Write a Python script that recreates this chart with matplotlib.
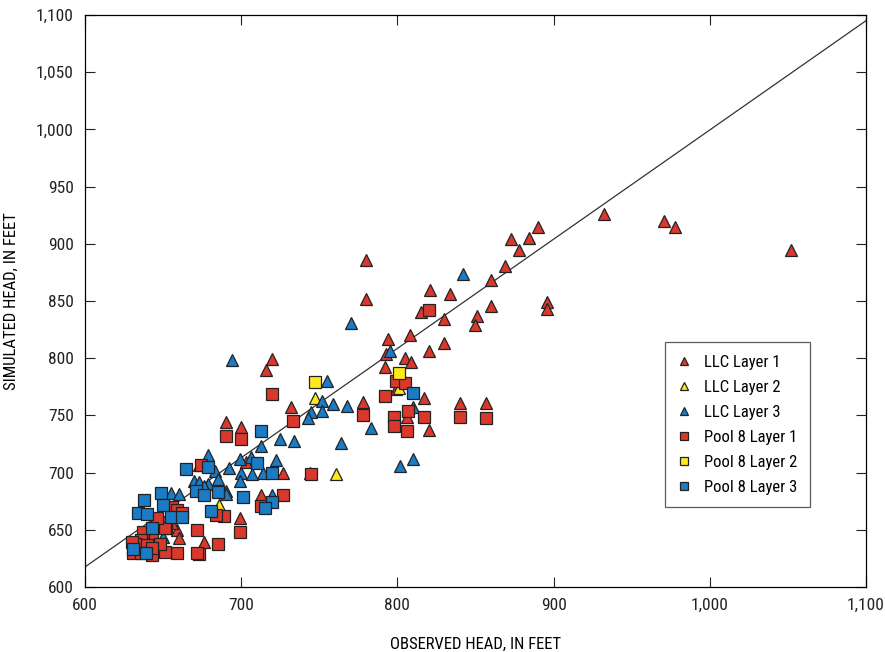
import matplotlib
matplotlib.use("Agg")
import matplotlib.pyplot as plt
from matplotlib import font_manager
from matplotlib.ticker import FuncFormatter

# narrow font if one is installed
names = {f.name for f in font_manager.fontManager.ttflist}
narrow = [n for n in ['Liberation Sans Narrow', 'Roboto Condensed', 'Open Sans Condensed',
                      'DejaVu Sans Condensed'] if n in names]
plt.rcParams['font.family'] = narrow + ['Liberation Sans', 'DejaVu Sans']
plt.rcParams['font.stretch'] = 'condensed'

# LLC layer 1 (red triangles): observed, simulated
llc1_obs = [1052, 978, 971, 932, 896, 896, 890, 884, 878, 873, 869, 860, 860, 851, 850,
            840, 857, 834, 830, 830, 821, 815, 820, 820, 817, 808, 794, 793, 805, 809,
            792, 799, 806, 778, 780, 780, 720, 716, 732, 690, 700, 703, 727, 744, 713,
            699, 676, 659, 660, 673, 656]
llc1_sim = [895, 915, 920, 926, 849, 843, 915, 905, 895, 904, 881, 868, 846, 837, 829,
            761, 761, 856, 834, 813, 860, 840, 806, 737, 765, 820, 817, 804, 800, 797,
            792, 773, 749, 762, 886, 852, 799, 790, 757, 744, 740, 709, 700, 700, 680,
            660, 639, 650, 643, 707, 656]

# LLC layer 2 (yellow triangles)
llc2_obs = [747, 801, 761, 686]
llc2_sim = [765, 774, 699, 672]

# LLC layer 3 (blue triangles)
llc3_obs = [842, 795, 770, 694, 755, 752, 768, 759, 745, 752, 743, 783, 764, 810, 810,
            802, 725, 734, 713, 679, 699, 706, 722, 714, 700, 707, 692, 699, 683, 685,
            679, 670, 673, 676, 690, 690, 720, 655, 660, 650]
llc3_sim = [874, 806, 831, 798, 780, 763, 758, 760, 753, 754, 748, 739, 726, 757, 712,
            706, 729, 728, 723, 715, 712, 714, 711, 700, 700, 699, 704, 693, 701, 694,
            690, 693, 692, 688, 684, 681, 680, 682, 681, 644]

# Pool 8 layer 1 (red squares)
p1_obs = [820, 799, 805, 792, 778, 807, 817, 798, 798, 806, 840, 857, 720, 733, 690,
          700, 727, 713, 745, 699, 672, 685, 673, 659, 672, 651, 643, 652, 674, 689,
          684, 656, 659, 652, 651, 643, 637, 636, 632, 630, 648, 640, 643, 631, 636,
          646, 662]
p1_sim = [842, 780, 778, 767, 750, 754, 749, 749, 741, 736, 749, 748, 769, 745, 732,
          729, 680, 671, 699, 648, 650, 638, 629, 630, 630, 631, 628, 652, 707, 662,
          663, 670, 667, 657, 652, 644, 648, 641, 638, 639, 638, 637, 634, 630, 630,
          660, 665]

# Pool 8 layer 2 (yellow squares)
p2_obs = [747, 801]
p2_sim = [779, 787]

# Pool 8 layer 3 (blue squares)
p3_obs = [810, 713, 720, 710, 665, 679, 701, 720, 715, 681, 638, 634, 640, 649, 650,
          655, 662, 643, 631, 639, 671, 676, 685]
p3_sim = [770, 736, 700, 708, 703, 705, 679, 674, 669, 666, 676, 665, 664, 682, 672,
          661, 661, 652, 633, 630, 684, 680, 683]

# fitted line end points
line_x = [600, 1100]
line_y = [617.5, 1095]

red = '#D9382D'
yellow = '#FFE81C'
blue = '#1B7BC4'

fig = plt.figure(figsize=(8.85, 6.52), dpi=100)
ax = fig.add_axes([0.096, 0.0997, 0.8825, 0.8773])

ax.plot(line_x, line_y, color='#333333', lw=0.9, zorder=1)

kw = dict(linestyle='none', markeredgecolor='#222222', markeredgewidth=0.9, ms=8.5)
ax.plot(llc1_obs, llc1_sim, marker='^', color=red, label='LLC Layer 1', **kw)
ax.plot(llc2_obs, llc2_sim, marker='^', color=yellow, label='LLC Layer 2', **kw)
ax.plot(llc3_obs, llc3_sim, marker='^', color=blue, label='LLC Layer 3', **kw)
ax.plot(p1_obs, p1_sim, marker='s', color=red, label='Pool 8 Layer 1', **kw)
ax.plot(p3_obs, p3_sim, marker='s', color=blue, label='Pool 8 Layer 3', **kw)
ax.plot(p2_obs, p2_sim, marker='s', color=yellow, label='Pool 8 Layer 2', **kw)

ax.set_xlim(600, 1100)
ax.set_ylim(600, 1100)
ax.set_xticks(range(600, 1101, 100))
ax.set_yticks(range(600, 1101, 50))
fmt = FuncFormatter(lambda v, p: '{:,.0f}'.format(v))
ax.xaxis.set_major_formatter(fmt)
ax.yaxis.set_major_formatter(fmt)
ax.tick_params(direction='in', length=7, width=0.8, top=True, right=True,
               labelsize=12.5, colors='#222222', pad=8)
for s in ax.spines.values():
    s.set_linewidth(0.9)

ax.set_xlabel('OBSERVED HEAD, IN FEET', fontsize=12, labelpad=17)
ax.set_ylabel('SIMULATED HEAD, IN FEET', fontsize=12, labelpad=12)

handles, labels = ax.get_legend_handles_labels()
order = [0, 1, 2, 3, 5, 4]
leg = ax.legend([handles[i] for i in order], [labels[i] for i in order],
                loc='upper left', bbox_to_anchor=(0.7426, 0.4283), fontsize=12,
                frameon=True, fancybox=False, edgecolor='#333333', markerscale=0.75,
                handlelength=0.8, handletextpad=0.8, labelspacing=0.6,
                borderpad=0.75, borderaxespad=0)
leg.get_frame().set_linewidth(0.9)

fig.savefig('out.png', dpi=100)
